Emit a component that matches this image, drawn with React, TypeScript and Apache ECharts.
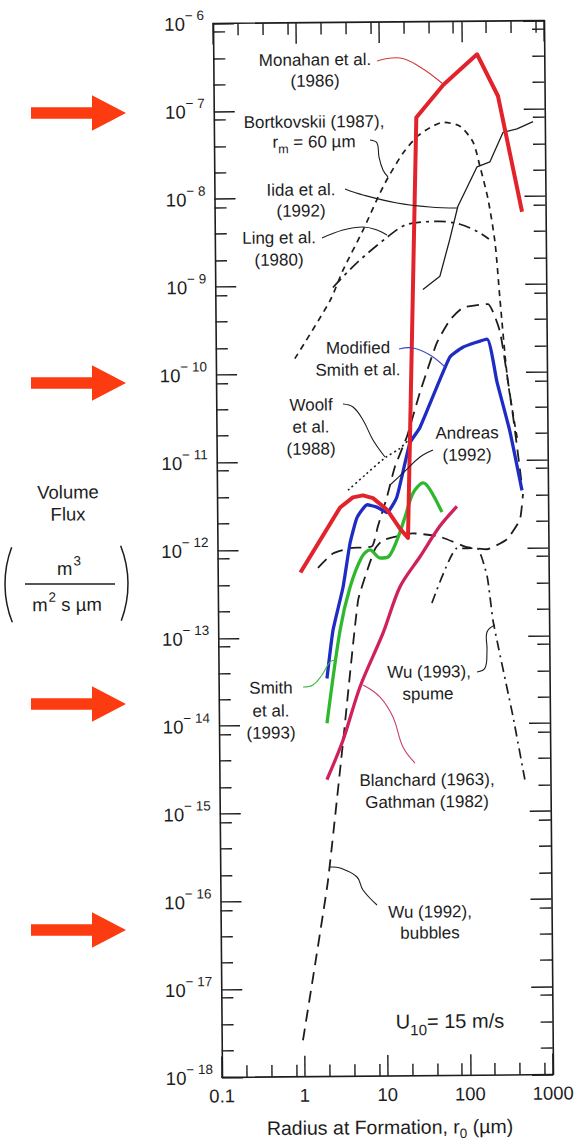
import React, { useEffect, useRef } from "react";
import * as echarts from "echarts";

type Pt = [number, number];

// ---- axis ticks / labels ----
const xTickLabels = ["0.1", "1", "10", "100", "1000"];
const yExponents = [-18, -17, -16, -15, -14, -13, -12, -11, -10, -9, -8, -7, -6];
const minorMultipliers = [2, 4, 8];

// ---- data: [radius r0 (µm), volume flux (m3 m-2 s-1 µm-1)] ----
const monahan: Pt[] = [
  [1, 5.5e-13], [3.06, 3e-12], [4.38, 3.9e-12], [5.8, 4.1e-12], [7.66, 3.8e-12],
  [11.3, 2.8e-12], [16.1, 1.7e-12], [20.1, 1.33e-12], [28, 8.1e-8], [60, 1.9e-7],
  [154, 4.2e-7], [273, 1.4e-7], [519, 6.7e-9],
];
const bortkovskii: Pt[] = [
  [0.9, 1.5e-10], [2.43, 6.8e-10], [3.5, 1.5e-9], [6.2, 4.3e-9], [9.5, 1.02e-8],
  [12.6, 1.7e-8], [19.2, 3.2e-8], [28.4, 4.9e-8], [40.8, 6.2e-8], [59, 7.1e-8],
  [94, 6.4e-8], [135, 4.2e-8], [163, 2.2e-8], [202, 9.4e-9], [243, 3e-9],
  [275, 6.8e-10], [336, 7.8e-11], [438, 1.6e-11],
];
const iida: Pt[] = [
  [32.3, 8.9e-10], [52, 1.26e-9], [69, 3.3e-9], [87, 7.8e-9], [150, 2.2e-8],
  [215, 2.5e-8], [312, 5.4e-8], [460, 5.9e-8], [720, 7.1e-8],
];
const ling: Pt[] = [
  [2.64, 9.6e-10], [5.1, 1.8e-9], [11.9, 3.5e-9], [20.7, 4.9e-9], [52, 5.3e-9],
  [92, 4.9e-9], [152, 4e-9], [205, 3.3e-9],
];
const modifiedSmith: Pt[] = [
  [2.04, 3.4e-14], [2.44, 1.2e-13], [3.26, 3.7e-13], [4, 1.17e-12], [4.9, 2.3e-12],
  [6.5, 3.2e-12], [8.5, 3e-12], [11.3, 2.6e-12], [14.9, 3.9e-12], [21.7, 1.6e-11],
  [28.8, 2.4e-11], [67, 1.5e-10], [97, 1.95e-10], [190, 2.4e-10], [248, 7.8e-11],
  [352, 2.1e-11], [485, 4.5e-12],
];
const woolf: Pt[] = [
  [3.83, 4.7e-12], [6.2, 7e-12], [10.8, 1.09e-11], [16.5, 1.4e-11], [21.7, 1.8e-11],
];
const andreas: Pt[] = [
  [1.63, 6.2e-13], [2.48, 9e-13], [4, 1.03e-12], [7.4, 1.08e-12], [8.7, 1.8e-12],
  [11.3, 3.9e-12], [14.2, 8.6e-12], [20, 1.9e-11], [29, 6e-11], [47, 2.2e-10],
  [68, 4e-10], [98, 5.5e-10], [197, 6e-10], [273, 2.9e-10], [384, 3.2e-11], [485, 5.1e-12],
];
const smith1993: Pt[] = [
  [2.02, 1.05e-14], [2.97, 1.2e-13], [3.96, 3.7e-13], [5.56, 8.2e-13], [6.96, 9.8e-13],
  [9.2, 7.9e-13], [11.5, 8.1e-13], [14.8, 1.26e-12], [18.6, 2.3e-12], [23.4, 4.3e-12],
  [31, 5.6e-12], [37.5, 4.7e-12], [52, 2.6e-12],
];
const wuSpume: Pt[] = [
  [38.5, 2.4e-13], [78, 1e-12], [137, 1e-12], [180, 4.8e-13], [211, 1.45e-13],
  [358, 1.2e-14], [490, 2.3e-15],
];
const blanchardGathman: Pt[] = [
  [1.99, 2.4e-15], [3.14, 6.7e-15], [5.1, 2.7e-14], [9.8, 1.1e-13], [15.9, 3.7e-13],
  [27.9, 8.1e-13], [49, 1.8e-12], [79, 3e-12],
];
const wuBubbles: Pt[] = [
  [0.96, 2.6e-18], [1.37, 1.9e-17], [2.0, 1.7e-16], [3.13, 6.2e-15], [4.93, 2.6e-13],
  [6.44, 5.8e-13], [8, 1e-12], [10, 1.26e-12], [23, 1.5e-12], [49, 1.36e-12],
  [103, 1.03e-12], [180, 9.7e-13], [316, 1.26e-12], [455, 2.1e-12], [498, 4.1e-12],
];

// ---- styling ----
const FONT = '"Liberation Sans", Arial, Helvetica, sans-serif';
const INK = "#1d1d1d";
const RED = "#e3232b";
const BLUE = "#1f2cc4";
const GREEN = "#2eb82e";
const MAGENTA = "#d0215f";
const ARROW = "#fd3b10";
const LABEL_SIZE = 17;

// the scanned figure is slightly rotated; graphic positions are given in page
// pixels and mapped back into the (un-rotated) chart frame
const CX = 383, CY = 549, S = 0.00855;
const P = (X: number, Y: number): [number, number] => [X - S * (Y - CY), Y + S * (X - CX)];

const toXY = (pts: Pt[]) => pts.map(([r, v]) => [Math.log10(r), Math.log10(v)]);

function minorTicks(from: number, to: number) {
  const out: number[] = [];
  for (let d = from; d < to; d++) for (const m of minorMultipliers) out.push(d + Math.log10(m));
  return out;
}

const labelTexts: { t: string; x: number; y: number }[] = [
  { t: "Monahan et al.", x: 315, y: 60 },
  { t: "(1986)", x: 315, y: 81 },
  { t: "Bortkovskii (1987),", x: 314, y: 122 },
  { t: "Iida et al.", x: 301, y: 190 },
  { t: "(1992)", x: 301, y: 211 },
  { t: "Ling et al.", x: 279, y: 238 },
  { t: "(1980)", x: 279, y: 260 },
  { t: "Modified", x: 358, y: 348 },
  { t: "Smith et al.", x: 358, y: 370 },
  { t: "Woolf", x: 311, y: 405 },
  { t: "et al.", x: 311, y: 427 },
  { t: "(1988)", x: 311, y: 449 },
  { t: "Andreas", x: 467, y: 433 },
  { t: "(1992)", x: 467, y: 455 },
  { t: "Smith", x: 271, y: 688 },
  { t: "et al.", x: 271, y: 711 },
  { t: "(1993)", x: 271, y: 733 },
  { t: "Wu (1993),", x: 429, y: 672 },
  { t: "spume", x: 428, y: 694 },
  { t: "Blanchard (1963),", x: 427, y: 780 },
  { t: "Gathman (1982)", x: 427, y: 802 },
  { t: "Wu (1992),", x: 430, y: 912 },
  { t: "bubbles", x: 430, y: 933 },
];

const leaders: { pts: Pt[]; color: string }[] = [
  { pts: [[377, 61], [400, 58], [420, 67], [443, 84]], color: "#d23a3a" },
  { pts: [[370, 140], [377, 143], [379, 157], [383, 170], [388, 177]], color: INK },
  { pts: [[345, 189], [363, 195], [397, 203], [430, 207], [457, 208]], color: INK },
  { pts: [[322, 238], [343, 230], [363, 227], [377, 230], [387, 235]], color: INK },
  { pts: [[399, 349], [413, 348], [430, 355], [445, 367]], color: "#3a46c8" },
  { pts: [[343, 404], [353, 407], [363, 420], [373, 440], [385, 457]], color: INK },
  { pts: [[433, 450], [420, 457], [403, 473], [390, 485]], color: INK },
  { pts: [[303, 687], [313, 685], [322, 675], [330, 662], [335, 660]], color: "#3fb83f" },
  { pts: [[477, 672], [485, 668], [487, 650], [487, 632], [495, 625]], color: INK },
  { pts: [[363, 685], [380, 697], [393, 717], [403, 747], [415, 763]], color: "#c8406e" },
  { pts: [[330, 867], [340, 868], [357, 877], [363, 890], [377, 905]], color: INK },
];

const arrowYs = [113, 383, 704, 930];

function buildOption(): any {
  const tickLine = { color: INK, width: 1.4 };
  const axisLine = { show: true, onZero: false, lineStyle: { color: INK, width: 1.6 } };
  const noLine = { show: false, onZero: false };
  const xBase = { type: "value", min: -1, max: 3, interval: 1, splitLine: { show: false }, gridIndex: 0 };
  const yBase = { type: "value", min: -18, max: -6, interval: 1, splitLine: { show: false }, gridIndex: 0 };
  const xMinor = minorTicks(-1, 3);
  const yMinor = minorTicks(-18, -6);

  const xAxis = [
    {
      ...xBase, position: "bottom", axisLine,
      axisTick: { show: true, inside: true, length: 21, lineStyle: tickLine },
      axisLabel: {
        show: true, margin: 9, fontSize: 18.5, color: INK, fontFamily: FONT,
        showMinLabel: true, showMaxLabel: true,
        formatter: (v: number) => xTickLabels[Math.round(v) + 1] ?? "",
      },
    },
    {
      ...xBase, position: "bottom", axisLine: noLine,
      axisTick: { show: true, inside: true, length: 12, customValues: xMinor, lineStyle: tickLine },
      axisLabel: { show: false },
    },
    {
      ...xBase, position: "top", axisLine,
      axisTick: { show: true, inside: true, length: 21, lineStyle: tickLine },
      axisLabel: { show: false },
    },
    {
      ...xBase, position: "top", axisLine: noLine,
      axisTick: { show: true, inside: true, length: 12, customValues: xMinor, lineStyle: tickLine },
      axisLabel: { show: false },
    },
  ];

  const yAxis = [
    {
      ...yBase, position: "left", axisLine,
      axisTick: { show: true, inside: true, length: 21, lineStyle: tickLine },
      axisLabel: {
        show: true, margin: 9, showMinLabel: true, showMaxLabel: true,
        formatter: (v: number) => {
          const e = yExponents.find((k) => k === Math.round(v));
          return e === undefined ? "" : `{b|10}{s|\u2212 ${Math.abs(e)}}`;
        },
        rich: {
          b: { fontSize: 18.5, lineHeight: 20, fontFamily: FONT, color: INK, verticalAlign: "bottom" },
          s: { fontSize: 13.5, lineHeight: 14, padding: [0, 0, 11, 0], fontFamily: FONT, color: INK, verticalAlign: "bottom" },
        },
      },
    },
    {
      ...yBase, position: "left", axisLine: noLine,
      axisTick: { show: true, inside: true, length: 12, customValues: yMinor, lineStyle: tickLine },
      axisLabel: { show: false },
    },
    {
      ...yBase, position: "right", axisLine,
      axisTick: { show: true, inside: true, length: 21, lineStyle: tickLine },
      axisLabel: { show: false },
    },
    {
      ...yBase, position: "right", axisLine: noLine,
      axisTick: { show: true, inside: true, length: 12, customValues: yMinor, lineStyle: tickLine },
      axisLabel: { show: false },
    },
  ];

  const line = (name: string, pts: Pt[], color: string, width: number, type: any, smooth: number | boolean = false) => ({
    type: "line", name, data: toXY(pts), xAxisIndex: 0, yAxisIndex: 0,
    symbol: "none", smooth, silent: true,
    lineStyle: { color, width, type, cap: "butt", join: "round" },
  });

  const series = [
    line("Bortkovskii (1987), rm = 60 µm", bortkovskii, INK, 1.7, [6, 5], 0.25),
    line("Iida et al. (1992)", iida, INK, 1.3, "solid"),
    line("Ling et al. (1980)", ling, INK, 1.7, [12, 5, 3, 5], 0.3),
    line("Woolf et al. (1988)", woolf, INK, 1.6, [2, 3], 0.3),
    line("Andreas (1992)", andreas, INK, 1.8, [12, 7], 0.15),
    line("Wu (1992), bubbles", wuBubbles, INK, 1.8, [12, 7], 0.15),
    line("Wu (1993), spume", wuSpume, INK, 1.7, [10, 5, 2, 5], 0.15),
    line("Blanchard (1963), Gathman (1982)", blanchardGathman, MAGENTA, 3.3, "solid", 0.3),
    line("Smith et al. (1993)", smith1993, GREEN, 3.3, "solid", 0.3),
    line("Modified Smith et al.", modifiedSmith, BLUE, 3.3, "solid", 0.15),
    line("Monahan et al. (1986)", monahan, RED, 4, "solid"),
  ];

  const txtStyle = (fontSize = LABEL_SIZE) => ({
    fontSize, fontFamily: FONT, fill: INK,
    align: "center", verticalAlign: "middle", textAlign: "center", textVerticalAlign: "middle",
  });

  const graphics: any[] = [];

  labelTexts.forEach((l) => {
    const [x, y] = P(l.x, l.y);
    graphics.push({ type: "text", x, y, z: 50, style: { ...txtStyle(LABEL_SIZE), text: l.t } });
  });

  // r_m = 60 µm
  {
    const [x, y] = P(314, 143);
    graphics.push({
      type: "text", x, y, z: 50,
      style: {
        ...txtStyle(LABEL_SIZE), text: "{a|r}{s|m}{a| = 60 \u00b5m}",
        rich: {
          a: { fontSize: LABEL_SIZE, lineHeight: 19, fontFamily: FONT, fill: INK, verticalAlign: "top" },
          s: { fontSize: 12.5, lineHeight: 13, padding: [9, 0, 0, 0], fontFamily: FONT, fill: INK, verticalAlign: "top" },
        },
      },
    });
  }

  // U10 = 15 m/s
  {
    const [x, y] = P(450, 1022);
    graphics.push({
      type: "text", x, y, z: 50,
      style: {
        ...txtStyle(20), text: "{a|U}{s|10}{a|= 15 m/s}",
        rich: {
          a: { fontSize: 20, lineHeight: 22, fontFamily: FONT, fill: INK, verticalAlign: "top" },
          s: { fontSize: 15, lineHeight: 16, padding: [11, 0, 0, 0], fontFamily: FONT, fill: INK, verticalAlign: "top" },
        },
      },
    });
  }

  // x-axis title
  {
    const [x, y] = P(390, 1128);
    graphics.push({
      type: "text", x, y, z: 50,
      style: {
        ...txtStyle(19.5), text: "{a|Radius at Formation, r}{s|0}{a| (\u00b5m)}",
        rich: {
          a: { fontSize: 19.5, lineHeight: 22, fontFamily: FONT, fill: INK, verticalAlign: "top" },
          s: { fontSize: 13.5, lineHeight: 14, padding: [10, 0, 0, 0], fontFamily: FONT, fill: INK, verticalAlign: "top" },
        },
      },
    });
  }

  // y-axis title
  [["Volume", 68, 492], ["Flux", 68, 514]].forEach(([t, X, Y]) => {
    const [x, y] = P(X as number, Y as number);
    graphics.push({ type: "text", x, y, z: 50, style: { ...txtStyle(18.5), text: t as string } });
  });
  {
    const [x, y] = P(69, 568);
    graphics.push({
      type: "text", x, y, z: 50,
      style: {
        ...txtStyle(18.5), text: "{a|m}{p|3}",
        rich: {
          a: { fontSize: 18.5, lineHeight: 20, fontFamily: FONT, fill: INK, verticalAlign: "bottom" },
          p: { fontSize: 13.5, lineHeight: 14, padding: [0, 0, 10, 1], fontFamily: FONT, fill: INK, verticalAlign: "bottom" },
        },
      },
    });
    const [x2, y2] = P(67, 604);
    graphics.push({
      type: "text", x: x2, y: y2, z: 50,
      style: {
        ...txtStyle(18.5), text: "{a|m}{p|2}{a| s \u00b5m}",
        rich: {
          a: { fontSize: 18.5, lineHeight: 20, fontFamily: FONT, fill: INK, verticalAlign: "bottom" },
          p: { fontSize: 13.5, lineHeight: 14, padding: [0, 0, 10, 1], fontFamily: FONT, fill: INK, verticalAlign: "bottom" },
        },
      },
    });
    const a = P(25, 584), b = P(115, 584);
    graphics.push({ type: "line", z: 50, shape: { x1: a[0], y1: a[1], x2: b[0], y2: b[1] }, style: { stroke: INK, lineWidth: 1.3 } });
    const R = 104, half = 0.369;
    const lc = P(5 + R, 584), rc = P(128 - R, 584);
    graphics.push({ type: "arc", z: 50, shape: { cx: lc[0], cy: lc[1], r: R, startAngle: Math.PI - half, endAngle: Math.PI + half, clockwise: true }, style: { stroke: INK, lineWidth: 1.5, fill: null } });
    graphics.push({ type: "arc", z: 50, shape: { cx: rc[0], cy: rc[1], r: R, startAngle: -half, endAngle: half, clockwise: true }, style: { stroke: INK, lineWidth: 1.5, fill: null } });
  }

  // leader lines
  leaders.forEach((l) => {
    graphics.push({
      type: "polyline", z: 40, silent: true,
      shape: { points: l.pts.map(([X, Y]) => P(X, Y)), smooth: 0.4 },
      style: { stroke: l.color, lineWidth: 1.1, fill: null },
    });
  });

  // red arrows pointing at the tick labels
  arrowYs.forEach((Yc) => {
    const pts: Pt[] = [
      [31, Yc - 5.8], [92, Yc - 5.8], [92, Yc - 17.8], [126, Yc], [92, Yc + 17.8], [92, Yc + 5.8], [31, Yc + 5.8],
    ];
    graphics.push({ type: "polygon", z: 60, shape: { points: pts.map(([X, Y]) => P(X, Y)) }, style: { fill: ARROW, stroke: null } });
  });

  return {
    animation: false,
    backgroundColor: "#ffffff",
    textStyle: { fontFamily: FONT },
    grid: { left: 217.5, top: 22, width: 331, height: 1054, containLabel: false },
    xAxis,
    yAxis,
    series,
    graphic: { elements: graphics },
  };
}

export default function App() {
  const ref = useRef<HTMLDivElement>(null);
  useEffect(() => {
    const el = ref.current;
    if (!el) return;
    const chart = echarts.init(el, null, { renderer: "svg" });
    chart.setOption(buildOption());
    return () => chart.dispose();
  }, []);
  return (
    <div style={{ position: "absolute", left: 0, top: 0, width: 588, height: 1141, overflow: "hidden", background: "#fff" }}>
      <div
        ref={ref}
        style={{
          position: "absolute", left: 0, top: 0, width: 588, height: 1141,
          transform: "rotate(-0.49deg)", transformOrigin: "383px 549px",
        }}
      />
    </div>
  );
}
